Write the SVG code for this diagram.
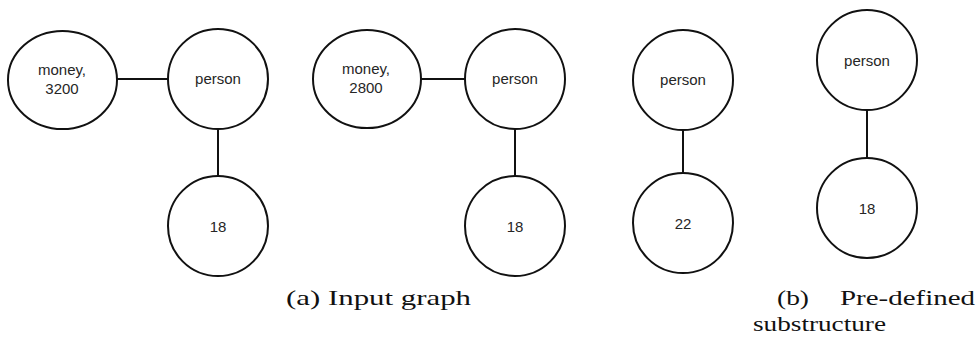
<svg xmlns="http://www.w3.org/2000/svg" width="977" height="342" viewBox="0 0 977 342">
  <style>
    .node { fill: #ffffff; stroke: #111111; stroke-width: 2; }
    .edge { stroke: #111111; stroke-width: 2; fill: none; }
    .lbl { font-family: "Liberation Sans", Arial, sans-serif; font-size: 15px; fill: #262626; text-anchor: middle; }
    .cap { font-family: "Liberation Serif", "Times New Roman", serif; font-size: 22px; fill: #111111; }
  </style>
  <rect width="977" height="342" fill="#ffffff"/>

  <!-- connectors -->
  <g id="edges">
    <line class="edge" x1="117" y1="79" x2="168" y2="79"/>
    <line class="edge" x1="218" y1="129" x2="218" y2="176"/>
    <line class="edge" x1="421" y1="79" x2="465" y2="79"/>
    <line class="edge" x1="515" y1="129" x2="515" y2="176"/>
    <line class="edge" x1="683" y1="130" x2="683" y2="173"/>
    <line class="edge" x1="867" y1="110" x2="867" y2="158"/>
  </g>

  <!-- (a) input graph -->
  <g id="money3200">
    <ellipse class="node" cx="62.5" cy="80" rx="54.5" ry="49"/>
    <text class="lbl" x="62" y="75">money,</text>
    <text class="lbl" x="62" y="94">3200</text>
  </g>
  <g id="person1">
    <circle class="node" cx="218" cy="79" r="50"/>
    <text class="lbl" x="218" y="84">person</text>
  </g>
  <g id="age18a">
    <circle class="node" cx="218" cy="226" r="50"/>
    <text class="lbl" x="218" y="232">18</text>
  </g>

  <g id="money2800">
    <ellipse class="node" cx="367" cy="79" rx="54" ry="49"/>
    <text class="lbl" x="366" y="74">money,</text>
    <text class="lbl" x="366" y="93">2800</text>
  </g>
  <g id="person2">
    <circle class="node" cx="515" cy="79" r="50"/>
    <text class="lbl" x="515" y="84">person</text>
  </g>
  <g id="age18b">
    <circle class="node" cx="515" cy="226" r="50"/>
    <text class="lbl" x="515" y="232">18</text>
  </g>

  <g id="person3">
    <circle class="node" cx="683" cy="80" r="50"/>
    <text class="lbl" x="683" y="85">person</text>
  </g>
  <g id="age22">
    <circle class="node" cx="683" cy="223" r="50"/>
    <text class="lbl" x="683" y="229">22</text>
  </g>

  <!-- (b) pre-defined substructure -->
  <g id="person4">
    <circle class="node" cx="867" cy="60" r="50"/>
    <text class="lbl" x="867" y="66">person</text>
  </g>
  <g id="age18c">
    <circle class="node" cx="867" cy="208" r="50"/>
    <text class="lbl" x="867" y="214">18</text>
  </g>

  <!-- captions -->
  <g id="captions">
    <text class="cap" x="286" y="305" textLength="185" lengthAdjust="spacingAndGlyphs">(a) Input graph</text>
    <text class="cap" x="777" y="305" textLength="32" lengthAdjust="spacingAndGlyphs">(b)</text>
    <text class="cap" x="840" y="305" textLength="135" lengthAdjust="spacingAndGlyphs">Pre-defined</text>
    <text class="cap" x="753" y="331" textLength="133" lengthAdjust="spacingAndGlyphs">substructure</text>
  </g>
</svg>
